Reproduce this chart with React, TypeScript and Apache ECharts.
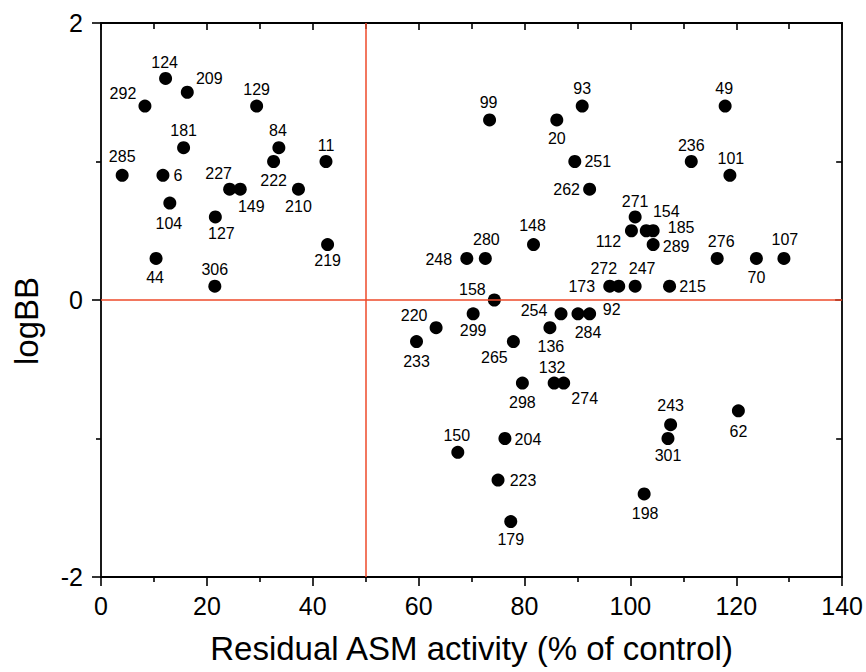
import React, { useEffect, useRef } from "react";
import * as echarts from "echarts";

const pointIds = [
  "124", "209", "292", "129", "181", "84", "285", "6", "222", "11",
  "227", "149", "210", "104", "127", "219", "44", "306",
  "93", "99", "20", "49", "251", "236", "101", "262", "271", "154",
  "112", "185", "289", "148", "248", "280", "276", "70", "107", "173",
  "272", "247", "215", "158", "299", "254", "284", "92", "220", "136",
  "233", "265", "298", "132", "274", "62", "243", "301", "204", "150",
  "223", "198", "179",
];

const residualActivity = [
  12.2, 16.3, 8.3, 29.4, 15.6, 33.6, 4.0, 11.7, 32.6, 42.5,
  24.3, 26.3, 37.3, 13.0, 21.6, 42.8, 10.4, 21.5,
  90.9, 73.4, 86.1, 117.9, 89.5, 111.5, 118.8, 92.3, 100.9, 103.0,
  100.2, 104.3, 104.3, 81.7, 69.1, 72.6, 116.4, 123.8, 129.0, 96.1,
  97.8, 100.9, 107.4, 74.3, 70.3, 86.9, 90.1, 92.3, 63.3, 84.8,
  59.6, 77.9, 79.6, 85.6, 87.4, 120.4, 107.6, 107.1, 76.3, 67.4,
  75.0, 102.6, 77.4,
];

const logBB = [
  1.6, 1.5, 1.4, 1.4, 1.1, 1.1, 0.9, 0.9, 1.0, 1.0,
  0.8, 0.8, 0.8, 0.7, 0.6, 0.4, 0.3, 0.1,
  1.4, 1.3, 1.3, 1.4, 1.0, 1.0, 0.9, 0.8, 0.6, 0.5,
  0.5, 0.5, 0.4, 0.4, 0.3, 0.3, 0.3, 0.3, 0.3, 0.1,
  0.1, 0.1, 0.1, 0.0, -0.1, -0.1, -0.1, -0.1, -0.2, -0.2,
  -0.3, -0.3, -0.6, -0.6, -0.6, -0.8, -0.9, -1.0, -1.0, -1.1,
  -1.3, -1.4, -1.6,
];

const xTickValues = [0, 20, 40, 60, 80, 100, 120, 140];
const yTickValues = [-2, 0, 2];
const thresholdActivity = 50;
const thresholdLogBB = 0;

// label placement (pixel offset of label centre from its point)
const labelOffsets: Record<string, [number, number]> = {
  "124": [-1, -16], "209": [22, -14], "292": [-22, -13], "129": [0, -17],
  "181": [0, -17], "84": [-1, -17], "285": [0, -19], "6": [15, 0],
  "222": [0, 19], "11": [0, -16], "227": [-11, -16], "149": [11, 17],
  "210": [0, 17], "104": [-1, 20], "127": [6, 17], "219": [0, 16],
  "44": [-1, 19], "306": [0, -17],
  "93": [0, -18], "99": [-1, -17], "20": [0, 19], "49": [-1, -18],
  "251": [23, 0], "236": [0, -16], "101": [1, -17], "262": [-23, 0],
  "271": [0, -15], "154": [20, -19], "112": [-23, 11], "185": [28, -3],
  "289": [23, 2], "148": [-1, -19], "248": [-28, 1], "280": [1, -19],
  "276": [4, -17], "70": [0, 19], "107": [1, -19], "173": [-28, 0],
  "272": [-15, -18], "247": [7, -18], "215": [23, 0], "158": [-22, -11],
  "299": [0, 17], "254": [-27, -3], "284": [10, 19], "92": [22, -4],
  "220": [-22, -12], "136": [1, 19], "233": [0, 20], "265": [-19, 16],
  "298": [0, 19], "132": [-2, -16], "274": [21, 15], "62": [0, 21],
  "243": [0, -19], "301": [0, 17], "204": [23, 1], "150": [-1, -17],
  "223": [25, 0], "198": [1, 20], "179": [0, 18],
};

const FONT = "Liberation Sans, Arial, Helvetica, sans-serif";

export default function App() {
  const ref = useRef<HTMLDivElement>(null);

  useEffect(() => {
    document.body.style.margin = "0";
    if (!ref.current) return;
    const chart = echarts.init(ref.current, undefined, { renderer: "svg" });

    const data = pointIds.map((id, i) => ({
      name: id,
      value: [residualActivity[i], logBB[i]],
      label: { offset: labelOffsets[id] || [0, -17] },
    }));

    const axisLine = { show: true, onZero: false, lineStyle: { color: "#000", width: 1.8 } };
    const tickStyle = { color: "#000", width: 1.6 };

    chart.setOption({
      animation: false,
      backgroundColor: "#fff",
      grid: { left: 101, right: 21, top: 23, bottom: 95, containLabel: false },
      xAxis: [
        {
          type: "value",
          min: xTickValues[0],
          max: xTickValues[xTickValues.length - 1],
          interval: 20,
          position: "bottom",
          axisLine,
          axisTick: { show: true, inside: false, length: 9, lineStyle: tickStyle },
          minorTick: { show: true, splitNumber: 2, length: 5, lineStyle: tickStyle },
          splitLine: { show: false },
          axisLabel: { color: "#000", fontSize: 25, fontFamily: FONT, margin: 16 },
          name: "Residual ASM activity (% of control)",
          nameLocation: "middle",
          nameGap: 55,
          nameTextStyle: { color: "#000", fontSize: 33, fontFamily: FONT },
        },
        {
          type: "value",
          min: xTickValues[0],
          max: xTickValues[xTickValues.length - 1],
          interval: 20,
          position: "top",
          axisLine,
          axisTick: { show: true, inside: true, length: 7, lineStyle: tickStyle },
          minorTick: { show: true, splitNumber: 2, length: 6, lineStyle: tickStyle },
          splitLine: { show: false },
          axisLabel: { show: false },
        },
      ],
      yAxis: [
        {
          type: "value",
          min: yTickValues[0],
          max: yTickValues[yTickValues.length - 1],
          interval: 2,
          position: "left",
          axisLine,
          axisTick: { show: true, inside: false, length: 9, lineStyle: tickStyle },
          minorTick: { show: true, splitNumber: 2, length: 5, lineStyle: tickStyle },
          splitLine: { show: false },
          axisLabel: { color: "#000", fontSize: 25, fontFamily: FONT, margin: 18 },
        },
        {
          type: "value",
          min: yTickValues[0],
          max: yTickValues[yTickValues.length - 1],
          interval: 2,
          position: "right",
          axisLine,
          axisTick: { show: true, inside: true, length: 7, lineStyle: tickStyle },
          minorTick: { show: true, splitNumber: 2, length: 6, lineStyle: tickStyle },
          splitLine: { show: false },
          axisLabel: { show: false },
        },
      ],
      graphic: [
        {
          type: "text",
          x: 26,
          y: 321,
          rotation: Math.PI / 2,
          style: {
            text: "logBB",
            fill: "#000",
            font: `33px ${FONT}`,
            align: "center",
            verticalAlign: "middle",
          },
        },
      ],
      series: [
        {
          type: "scatter",
          xAxisIndex: 0,
          yAxisIndex: 0,
          symbol: "circle",
          symbolSize: 13,
          itemStyle: { color: "#000", opacity: 1 },
          label: {
            show: true,
            position: "inside",
            formatter: "{b}",
            color: "#000",
            opacity: 1,
            fontSize: 16,
            fontFamily: FONT,
            textBorderWidth: 0,
          },
          emphasis: { disabled: true },
          data,
          markLine: {
            silent: true,
            symbol: "none",
            label: { show: false },
            lineStyle: { color: "#ee4a2a", width: 1.5, type: "solid", opacity: 1 },
            data: [{ xAxis: thresholdActivity }, { yAxis: thresholdLogBB }],
          },
          z: 3,
        },
      ],
    });

    return () => chart.dispose();
  }, []);

  return <div ref={ref} style={{ width: 866, height: 672 }} />;
}
